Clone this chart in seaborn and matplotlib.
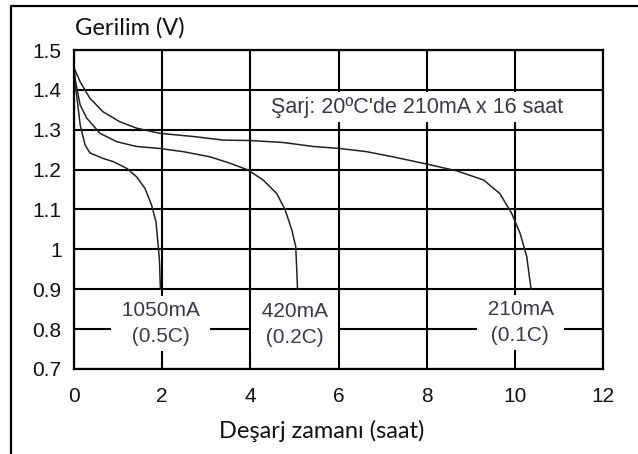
import matplotlib
matplotlib.use("Agg")
import matplotlib.pyplot as plt
from matplotlib.lines import Line2D
import seaborn as sns
import pandas as pd

# Discharge curves (time in hours, voltage in V)
t_1050 = [0, 0.02, 0.06, 0.14, 0.25, 0.36, 0.66, 0.89, 1.2, 1.42, 1.61, 1.76, 1.86, 1.91, 1.94, 1.96]
v_1050 = [1.46, 1.43, 1.387, 1.312, 1.262, 1.242, 1.228, 1.22, 1.203, 1.182, 1.153, 1.111, 1.069, 1.01, 0.969, 0.9]

t_420 = [0, 0.02, 0.14, 0.29, 0.59, 0.97, 1.42, 1.95, 2.48, 3.09, 3.54, 3.95, 4.29, 4.6, 4.79, 4.94, 5.03, 5.05, 5.07]
v_420 = [1.45, 1.43, 1.362, 1.329, 1.291, 1.27, 1.258, 1.253, 1.245, 1.232, 1.216, 1.199, 1.174, 1.14, 1.099, 1.049, 1.007, 0.957, 0.9]

t_210 = [0, 0.14, 0.36, 0.66, 1.04, 1.42, 1.95, 2.71, 3.39, 3.99, 4.75, 5.43, 6.03, 6.64, 7.24, 8.0, 8.68, 9.29, 9.66, 9.93, 10.12, 10.27, 10.34, 10.37]
v_210 = [1.455, 1.42, 1.379, 1.345, 1.32, 1.304, 1.291, 1.283, 1.274, 1.273, 1.268, 1.258, 1.253, 1.245, 1.232, 1.214, 1.197, 1.174, 1.14, 1.09, 1.04, 0.982, 0.923, 0.9]

series_names = ["1050mA", "420mA", "210mA"]
series_c = ["(0.5C)", "(0.2C)", "(0.1C)"]
label_x = [1.96, 5.0, 10.12]
label_y = [0.815, 0.812, 0.816]

x_ticks = [0, 2, 4, 6, 8, 10, 12]
y_ticks = [0.7, 0.8, 0.9, 1.0, 1.1, 1.2, 1.3, 1.4, 1.5]
y_tick_labels = ["0.7", "0.8", "0.9", "1", "1.1", "1.2", "1.3", "1.4", "1.5"]

frames = []
for name, t, v in zip(series_names, [t_1050, t_420, t_210], [v_1050, v_420, v_210]):
    frames.append(pd.DataFrame({"t": t, "v": v, "akim": name}))
df = pd.concat(frames, ignore_index=True)

sns.set_theme(style="white")
plt.rcParams["font.family"] = ["Liberation Sans", "DejaVu Sans"]

fig = plt.figure(figsize=(6.38, 4.54), dpi=100)
ax = fig.add_axes([74 / 638, 1 - 369 / 454, (603 - 74) / 638, (369 - 50) / 454])

sns.lineplot(data=df, x="t", y="v", hue="akim", units="akim", estimator=None,
             palette=["#222222"] * 3, linewidth=1.1, legend=False, ax=ax, zorder=2)

ax.set_xlim(0, 12)
ax.set_ylim(0.7, 1.5)
ax.set_xticks(x_ticks)
ax.set_xticklabels([str(x) for x in x_ticks])
ax.set_yticks(y_ticks)
ax.set_yticklabels(y_tick_labels)
ax.tick_params(axis="both", length=0, labelsize=15, colors="#111111")
ax.tick_params(axis="x", pad=13)
ax.tick_params(axis="y", pad=9)

ax.set_axisbelow(True)
ax.grid(True, color="black", linewidth=1.5)
for s in ax.spines.values():
    s.set_color("black")
    s.set_linewidth(1.6)
    s.set_visible(True)

title_font = ["Lato", "DejaVu Sans"]
ax.set_xlabel("Deşarj zamanı (saat)", fontsize=17, family=title_font, color="#111111")
ax.xaxis.set_label_coords((322 - 74) / 529, -(420 - 369) / 319)
ax.set_ylabel("")
fig.text(75 / 638, 1 - 28 / 454, "Gerilim (V)", fontsize=17, family=title_font,
         color="#111111", ha="left", va="center")

lab_color = "#3a3a48"
for name, c, x, y in zip(series_names, series_c, label_x, label_y):
    ax.text(x, y, f" {name} \n {c} ", ha="center", va="center", fontsize=15, color=lab_color,
            linespacing=1.45, zorder=4,
            bbox=dict(boxstyle="square,pad=0.25", fc="white", ec="none"))

ax.text(7.78, 1.357, "Şarj: 20ºC'de 210mA x 16 saat", ha="center", va="center", fontsize=15.5,
        color=lab_color, zorder=4,
        bbox=dict(boxstyle="square,pad=0.2", fc="white", ec="none"))

# outer frame edges
fig.add_artist(Line2D([11 / 638, 11 / 638], [0, 1 - 6 / 454], color="black", linewidth=1.6,
                      transform=fig.transFigure))
fig.add_artist(Line2D([11 / 638, 1], [1 - 6 / 454, 1 - 6 / 454], color="black", linewidth=1.6,
                      transform=fig.transFigure))

fig.savefig("out.png", dpi=100, facecolor="white")
